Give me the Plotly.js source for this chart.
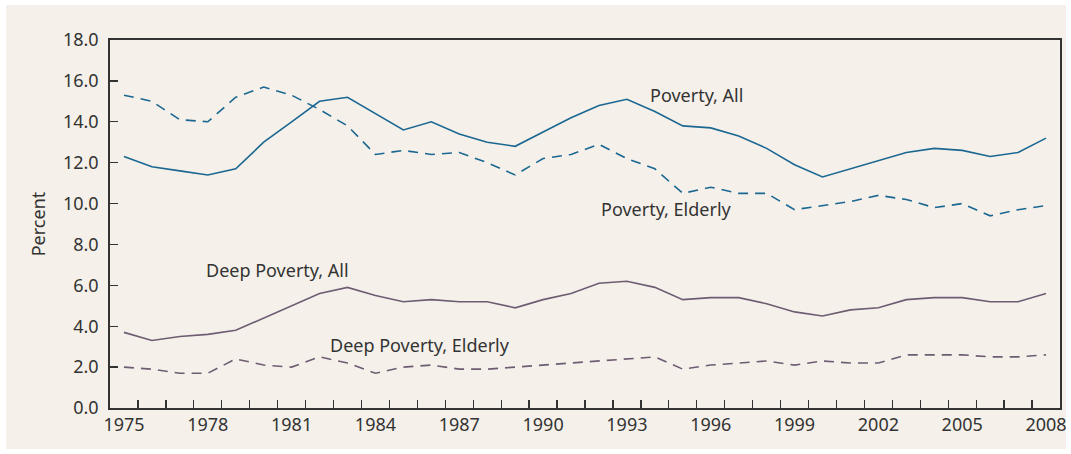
<!DOCTYPE html>
<html>
<head>
<meta charset="utf-8">
<script src="https://cdn.plot.ly/plotly-3.0.1.min.js"></script>
<style>
html,body{margin:0;padding:0;background:#ffffff;}
#chart{position:absolute;left:6px;top:5px;width:1060px;height:444px;}
</style>
</head>
<body>
<div id="chart"></div>
<script>
const years = [1975,1976,1977,1978,1979,1980,1981,1982,1983,1984,1985,1986,1987,1988,1989,1990,1991,1992,1993,1994,1995,1996,1997,1998,1999,2000,2001,2002,2003,2004,2005,2006,2007,2008];
const povertyAll = [12.3,11.8,11.6,11.4,11.7,13.0,14.0,15.0,15.2,14.4,13.6,14.0,13.4,13.0,12.8,13.5,14.2,14.8,15.1,14.5,13.8,13.7,13.3,12.7,11.9,11.3,11.7,12.1,12.5,12.7,12.6,12.3,12.5,13.2];
const povertyElderly = [15.3,15.0,14.1,14.0,15.2,15.7,15.3,14.6,13.8,12.4,12.6,12.4,12.5,12.0,11.4,12.2,12.4,12.9,12.2,11.7,10.5,10.8,10.5,10.5,9.7,9.9,10.1,10.4,10.2,9.8,10.0,9.4,9.7,9.9];
const deepAll = [3.7,3.3,3.5,3.6,3.8,4.4,5.0,5.6,5.9,5.5,5.2,5.3,5.2,5.2,4.9,5.3,5.6,6.1,6.2,5.9,5.3,5.4,5.4,5.1,4.7,4.5,4.8,4.9,5.3,5.4,5.4,5.2,5.2,5.6];
const deepElderly = [2.0,1.9,1.7,1.7,2.4,2.1,2.0,2.5,2.2,1.7,2.0,2.1,1.9,1.9,2.0,2.1,2.2,2.3,2.4,2.5,1.9,2.1,2.2,2.3,2.1,2.3,2.2,2.2,2.6,2.6,2.6,2.5,2.5,2.6];
const labelYears = [1975,1978,1981,1984,1987,1990,1993,1996,1999,2002,2005,2008];
const yTicks = [0,2,4,6,8,10,12,14,16,18];
const seriesLabels = ["Poverty, All","Poverty, Elderly","Deep Poverty, All","Deep Poverty, Elderly"];

const blue = '#1b6792';
const purple = '#6e5c72';
const txt = '#333333';
const font = 'Noto Sans, Open Sans, sans-serif';
const halfYears = years.slice(0, -1).map(y => y + 0.5);

const traces = [
  {x: years, y: povertyAll, name: seriesLabels[0], mode: 'lines', line: {color: blue, width: 1.6}},
  {x: years, y: povertyElderly, name: seriesLabels[1], mode: 'lines', line: {color: blue, width: 1.6, dash: '10px,7px'}},
  {x: years, y: deepAll, name: seriesLabels[2], mode: 'lines', line: {color: purple, width: 1.6}},
  {x: years, y: deepElderly, name: seriesLabels[3], mode: 'lines', line: {color: purple, width: 1.6, dash: '10px,7px'}}
];

const annFont = {family: font, size: 18, color: txt};
const layout = {
  width: 1060, height: 444,
  margin: {l: 104, r: 6, t: 35, b: 41},
  paper_bgcolor: '#f5f1ea',
  plot_bgcolor: '#f5f1ea',
  showlegend: false,
  font: {family: font, size: 18, color: txt},
  xaxis: {
    range: [1974.5, 2008.5],
    tickmode: 'array', tickvals: labelYears, ticktext: labelYears.map(String),
    ticks: 'inside', ticklen: 0, tickcolor: 'rgba(0,0,0,0)',
    ticklabeloverflow: 'allow',
    minor: {tickmode: 'array', tickvals: halfYears, ticks: 'inside', ticklen: 8, tickcolor: txt, tickwidth: 1.3, showgrid: false},
    showline: true, mirror: true, linecolor: txt, linewidth: 1.8,
    showgrid: false, zeroline: false,
    tickfont: {family: font, size: 18, color: txt}
  },
  yaxis: {
    range: [0, 18],
    tickmode: 'array', tickvals: yTicks, tickformat: '.1f',
    ticks: 'inside', ticklen: 8, tickcolor: txt, tickwidth: 1.3,
    ticklabelstandoff: 6,
    showline: true, mirror: true, linecolor: txt, linewidth: 1.8,
    showgrid: false, zeroline: false,
    tickfont: {family: font, size: 18, color: txt},
    title: {text: 'Percent', font: {family: font, size: 18, color: txt}, standoff: 12}
  },
  annotations: [
    {x: 1993.75, y: 15.3, xref: 'x', yref: 'y', text: seriesLabels[0], showarrow: false, xanchor: 'left', yanchor: 'middle', font: annFont},
    {x: 1992.0, y: 9.75, xref: 'x', yref: 'y', text: seriesLabels[1], showarrow: false, xanchor: 'left', yanchor: 'middle', font: annFont},
    {x: 1977.85, y: 6.75, xref: 'x', yref: 'y', text: seriesLabels[2], showarrow: false, xanchor: 'left', yanchor: 'middle', font: annFont},
    {x: 1982.3, y: 3.1, xref: 'x', yref: 'y', text: seriesLabels[3], showarrow: false, xanchor: 'left', yanchor: 'middle', font: annFont}
  ]
};

Plotly.newPlot('chart', traces, layout, {displayModeBar: false, staticPlot: true});
</script>
</body>
</html>
